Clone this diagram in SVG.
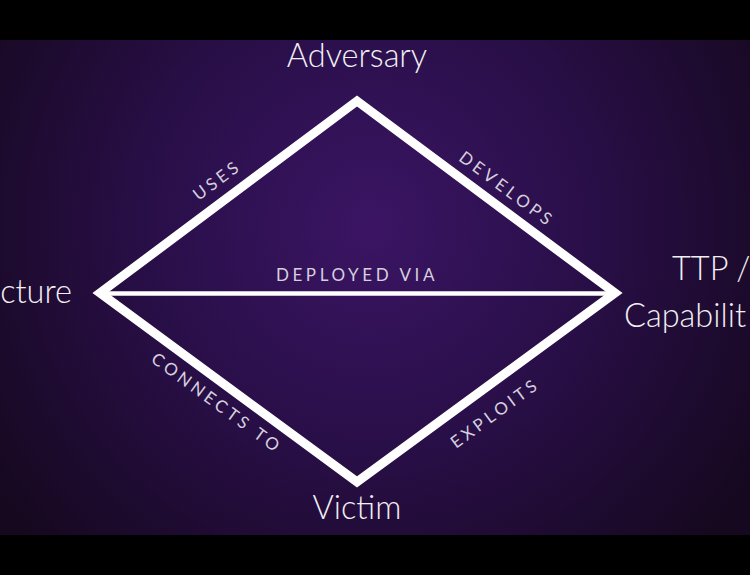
<svg xmlns="http://www.w3.org/2000/svg" width="750" height="575" viewBox="0 0 750 575">
<defs>
<radialGradient id="bg" cx="370" cy="225" r="460" gradientUnits="userSpaceOnUse">
<stop offset="0" stop-color="#3b1564"/>
<stop offset="0.45" stop-color="#2a0f4a"/>
<stop offset="1" stop-color="#16081f"/>
</radialGradient>
<style>
.node{font-family:Lato,"Open Sans","Liberation Sans",sans-serif;font-weight:300;font-size:32.5px;fill:#f2f0f4}
.lbl{font-family:Lato,"Open Sans","Liberation Sans",sans-serif;font-weight:400;font-size:17px;letter-spacing:3.6px;fill:#d6cfdf;text-anchor:middle}
.edge{stroke:#ffffff;fill:none;stroke-linejoin:miter}
</style>
</defs>
<rect width="750" height="575" fill="#000"/>
<rect x="0" y="40" width="750" height="495" fill="url(#bg)"/>
<g id="connectors">
<path class="edge" stroke-width="9" d="M357,101 L615,293 L357,482 L100,293 Z"/>
<line class="edge" stroke-width="4.5" x1="100" y1="293.5" x2="615" y2="293.5"/>
<text class="lbl" transform="translate(217,180) rotate(-36.8)" y="6">USES</text>
<text class="lbl" transform="translate(507,189) rotate(36.8)" y="6">DEVELOPS</text>
<text class="lbl" x="357" y="281">DEPLOYED VIA</text>
<text class="lbl" transform="translate(217,403) rotate(36.3)" y="6">CONNECTS TO</text>
<text class="lbl" transform="translate(495,413) rotate(-36.3)" y="6">EXPLOITS</text>
</g>
<g id="adversary"><text class="node" x="357" y="67" text-anchor="middle">Adversary</text></g>
<g id="infrastructure"><text class="node" x="72" y="303" text-anchor="end">cture</text></g>
<g id="capability"><text class="node" x="672" y="280">TTP /</text><text class="node" x="624" y="327">Capabilit</text></g>
<g id="victim"><text class="node" x="357" y="519" text-anchor="middle">Victim</text></g>
</svg>
